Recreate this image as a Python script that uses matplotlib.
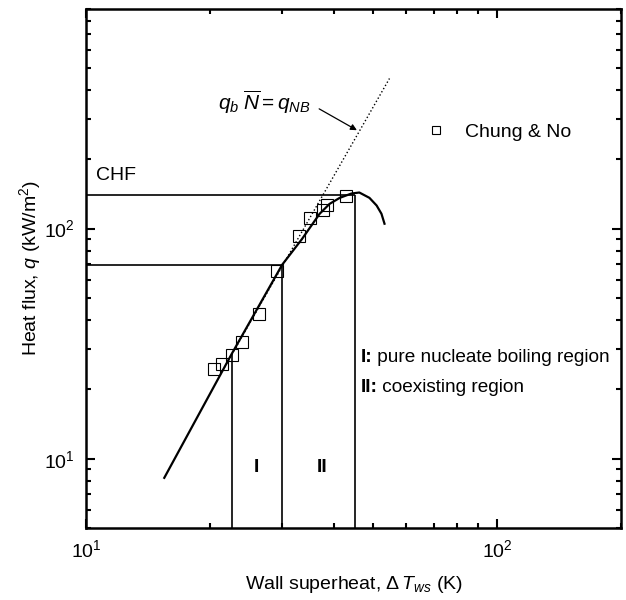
import matplotlib
matplotlib.use("Agg")
import matplotlib.pyplot as plt

plt.rcParams['font.family'] = ['Liberation Sans', 'DejaVu Sans']
plt.rcParams['mathtext.fontset'] = 'custom'
plt.rcParams['mathtext.rm'] = 'Liberation Sans'
plt.rcParams['mathtext.it'] = 'Liberation Sans:italic'
plt.rcParams['mathtext.bf'] = 'Liberation Sans:bold'

# donnees Chung & No
chung_x = [20.5, 21.4, 22.6, 23.9, 26.3, 29.2, 32.9, 35.0, 37.6, 38.5, 43.0]
chung_y = [24.6, 25.9, 28.3, 32.3, 42.7, 65.7, 93.2, 111.6, 121, 127, 139]

# courbe du modele
model_x = [15.5, 22.6, 30.0, 33.5, 37.0, 39.1, 41.4, 44.2, 46.2, 48.9, 50.9, 52.3, 53.2]
model_y = [8.26, 28.5, 69.7, 90, 116, 128, 136, 142, 143.5, 136, 126, 116, 105]

# q_b N = q_NB (pointilles)
nb_x = [21.5, 54.7]
nb_y = [24.2, 449]

# limites des regions
vline_x = [22.6, 30.0, 45.0]
vline_top = [28.5, 69.7, 140.6]
hline_y = [69.7, 140.6]
hline_end = [30.0, 45.0]

fs = 14

fig = plt.figure(figsize=(6.26, 6.0), dpi=100)
ax = fig.add_axes([0.1374, 0.12, 0.8546, 0.865])
ax.set_xscale('log')
ax.set_yscale('log')
ax.set_xlim(10, 200)
ax.set_ylim(5, 900)

ax.vlines(vline_x, 5, vline_top, colors='k', lw=1.2)
ax.hlines(hline_y, 10, hline_end, colors='k', lw=1.2)
ax.plot(model_x, model_y, 'k-', lw=1.6)
ax.plot(nb_x, nb_y, 'k:', lw=1.0)
ax.plot(chung_x, chung_y, 's', mfc='none', mec='k', ms=8.2, mew=0.8,
        label='Chung & No')

ax.text(10.57, 170, 'CHF', fontsize=fs, va='center', ha='left')
ax.text(27.2, 326, r'$q_b\;\overline{N} = q_{NB}$', fontsize=15,
        ha='center', va='baseline')
ax.annotate('', xy=(46.2, 264), xytext=(36.4, 336),
            arrowprops=dict(arrowstyle='-|>', color='k', lw=0.9,
                            mutation_scale=9))

ax.text(26.0, 9.2, 'I', fontsize=fs, fontweight='bold', ha='center', va='center')
ax.text(37.6, 9.2, 'II', fontsize=fs, fontweight='bold', ha='center', va='center')

t1 = ax.text(46.5, 27.5, 'I:', fontsize=13.7, fontweight='bold', va='center')
ax.annotate(' pure nucleate boiling region', xy=(1, 0), xycoords=t1,
            fontsize=13.7, va='bottom')
t2 = ax.text(46.5, 20.4, 'II:', fontsize=13.7, fontweight='bold', va='center')
ax.annotate(' coexisting region', xy=(1, 0), xycoords=t2,
            fontsize=13.7, va='bottom')

ax.legend(loc='center left', bbox_to_anchor=(0.636, 0.763), frameon=False,
          fontsize=fs, handlelength=1.0, handletextpad=1.0, borderpad=0,
          borderaxespad=0, markerscale=0.7)

ax.set_xlabel(r'Wall superheat, $\Delta\,T_{ws}$ (K)', fontsize=fs, labelpad=9)
ax.set_ylabel(r'Heat flux, $q$ (kW/m$^2$)', fontsize=fs, labelpad=1)

for s in ax.spines.values():
    s.set_linewidth(1.8)
ax.tick_params(which='both', direction='in', top=True, right=True,
               labelsize=fs, width=1.5)
ax.tick_params(which='major', length=6.5, pad=8)
ax.tick_params(which='minor', length=3.8)

fig.savefig('out.png', dpi=100)
